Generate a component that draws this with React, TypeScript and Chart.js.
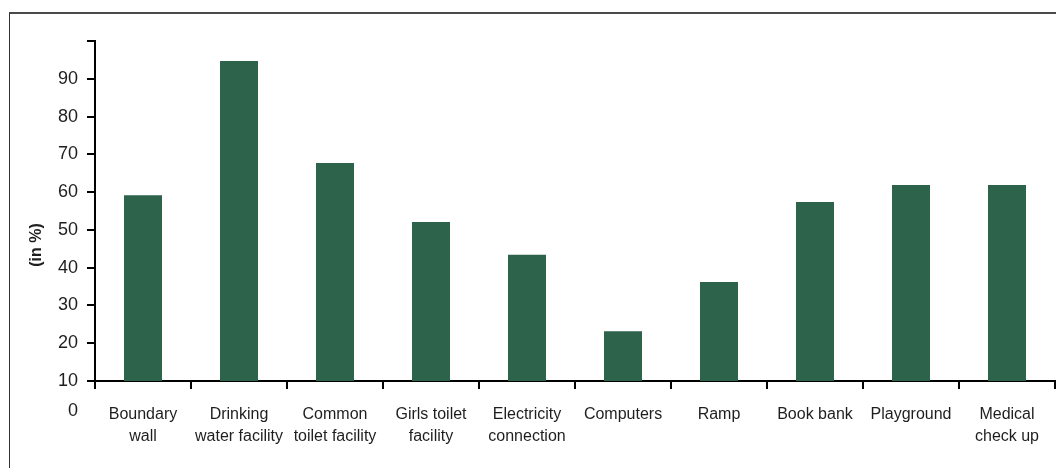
import React, { useEffect, useRef } from "react";
import { Chart, registerables } from "chart.js";

Chart.register(...registerables);

const categories: string[][] = [
  ["Boundary", "wall"],
  ["Drinking", "water facility"],
  ["Common", "toilet facility"],
  ["Girls toilet", "facility"],
  ["Electricity", "connection"],
  ["Computers"],
  ["Ramp"],
  ["Book bank"],
  ["Playground"],
  ["Medical", "check up"],
];

const values: number[] = [59.2, 94.7, 67.7, 52.1, 43.4, 23.2, 36.2, 57.4, 61.9, 61.9];

const yMin = 10;
const yMax = 100;
const yStep = 10;
const hiddenTickValues: number[] = [100];
const zeroLabel = "0";
const yTitle = "(in %)";

const BAR_COLOR = "#2d624b";
const TEXT_COLOR = "#1e1e1e";
const AXIS_COLOR = "#000000";
const FONT = "'Liberation Sans', Arial, sans-serif";

const extrasPlugin = {
  id: "extras",
  afterDraw(chart: any) {
    const ctx = chart.ctx as CanvasRenderingContext2D;
    const area = chart.chartArea;
    ctx.save();
    ctx.fillStyle = TEXT_COLOR;
    ctx.font = "18px " + FONT;
    ctx.textAlign = "right";
    ctx.textBaseline = "middle";
    ctx.fillText(zeroLabel, area.left - 17, area.bottom + 30);
    ctx.translate(37, 245);
    ctx.rotate(-Math.PI / 2);
    ctx.font = "bold 16px " + FONT;
    ctx.textAlign = "center";
    ctx.fillText(yTitle, 0, 0);
    ctx.restore();
  },
};

export default function App() {
  const canvasRef = useRef<HTMLCanvasElement | null>(null);

  useEffect(() => {
    if (!canvasRef.current) return;
    const chart = new Chart(canvasRef.current, {
      type: "bar",
      data: {
        labels: categories,
        datasets: [
          {
            data: values,
            backgroundColor: BAR_COLOR,
            borderWidth: 0,
            barPercentage: 0.396,
            categoryPercentage: 1.0,
          },
        ],
      },
      options: {
        responsive: false,
        animation: false,
        events: [],
        layout: { padding: { left: 0, top: 41, right: 1, bottom: 0 } },
        plugins: {
          legend: { display: false },
          tooltip: { enabled: false },
          title: { display: false },
        },
        scales: {
          x: {
            offset: true,
            grid: {
              offset: true,
              drawOnChartArea: false,
              drawTicks: true,
              tickLength: 8,
              color: AXIS_COLOR,
              lineWidth: 2,
            },
            border: { display: true, color: AXIS_COLOR, width: 2 },
            ticks: {
              autoSkip: false,
              maxRotation: 0,
              minRotation: 0,
              padding: 15,
              color: TEXT_COLOR,
              font: { family: FONT, size: 16, lineHeight: 1.375 },
            },
            afterFit(scale: any) {
              scale.height = 87;
            },
          },
          y: {
            min: yMin,
            max: yMax,
            grid: {
              drawOnChartArea: false,
              drawTicks: true,
              tickLength: 8,
              color: AXIS_COLOR,
              lineWidth: 2,
            },
            border: { display: true, color: AXIS_COLOR, width: 2 },
            ticks: {
              stepSize: yStep,
              padding: 9,
              color: TEXT_COLOR,
              font: { family: FONT, size: 18 },
              callback: (v: any) => (hiddenTickValues.includes(Number(v)) ? "" : String(v)),
            },
            afterFit(scale: any) {
              scale.width = 95;
            },
          },
        },
      },
      plugins: [extrasPlugin],
    });
    return () => chart.destroy();
  }, []);

  return (
    <div style={{ position: "fixed", left: 0, top: 0, width: 1056, height: 468, background: "#fff", overflow: "hidden" }}>
      <div
        style={{
          position: "absolute",
          left: 9,
          top: 12,
          width: 1100,
          height: 500,
          borderTop: "2px solid #4a4a4a",
          borderLeft: "1px solid #333",
        }}
      />
      <canvas ref={canvasRef} width={1056} height={468} style={{ position: "absolute", left: 0, top: 0 }} />
    </div>
  );
}
